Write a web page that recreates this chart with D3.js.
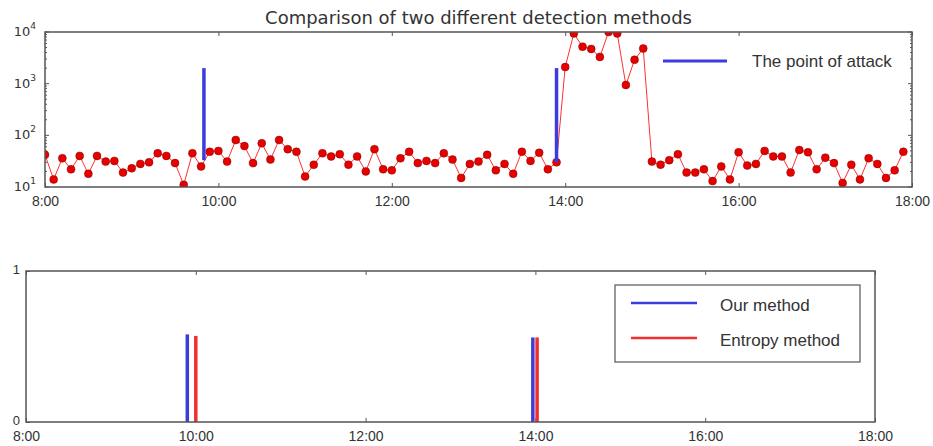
<!DOCTYPE html>
<html>
<head>
<meta charset="utf-8">
<script src="https://cdn.jsdelivr.net/npm/d3@7"></script>
<style>
  body { margin: 0; background: #fff; }
  svg { font-family: "DejaVu Sans", sans-serif; }
  .legend-text { font-family: "Liberation Sans", Arial, sans-serif; }
</style>
</head>
<body>
<svg id="chart" width="933" height="446"></svg>
<script>
// traffic metric sampled every 6 minutes from 8:00
const sampleStart = 8;
const sampleStep = 0.1; // hours
const trafficValues = [
  42, 14, 36, 22, 40, 18, 40, 31, 32, 19,
  23, 28, 30, 45, 40, 29, 11, 45, 25, 48,
  50, 31, 81, 62, 29, 70, 34, 81, 54, 48,
  16, 27, 45, 39, 43, 27, 39, 20, 54, 22,
  21, 36, 48, 29, 32, 29, 45, 34, 15, 28,
  31, 42, 21, 28, 18, 48, 32, 46, 22, 30,
  2100, 9400, 5200, 4700, 3300, 10000, 9400, 940, 2900, 4800,
  31, 27, 33, 43, 19, 19, 22, 13, 25, 14,
  47, 26, 28, 50, 39, 39, 19, 52, 47, 22,
  37, 29, 12, 27, 14, 36, 28, 15, 21, 48
];

// attack points (hours, low/high value of the marker)
const attackTimes = [9.833, 13.9];
const attackLow = [33, 30];
const attackHigh = [2000, 2000];

// detection results
const ourTimes = [9.9, 13.97];
const ourValues = [0.58, 0.56];
const entropyTimes = [10.0, 14.02];
const entropyValues = [0.57, 0.56];

const hourTicks = [8, 10, 12, 14, 16, 18];
const logTicks = [10, 100, 1000, 10000];

const title = "Comparison of two different detection methods";

const svg = d3.select("#chart");
const frameColor = "#555";
const textColor = "#333";
const blue = "#3c3cdc";
const red = "#f03030";

// ---------- top panel ----------
const box1 = { left: 45, right: 912, top: 32, bottom: 187 };

const x1 = d3.scaleLinear().domain([8, 18]).range([box1.left, box1.right]);
const y1 = d3.scaleLog().domain([10, 10000]).range([box1.bottom, box1.top]);

svg.append("defs").append("clipPath")
  .attr("id", "clip-top")
  .append("rect")
  .attr("x", box1.left)
  .attr("y", box1.top)
  .attr("width", box1.right - box1.left)
  .attr("height", box1.bottom - box1.top);

const g1 = svg.append("g");

// ticks on all four sides, pointing inward
g1.append("g")
  .attr("transform", `translate(0,${box1.bottom})`)
  .call(d3.axisBottom(x1).tickValues(hourTicks).tickSizeInner(-4).tickSizeOuter(0)
    .tickPadding(9).tickFormat(d => d + ":00"))
  .call(a => a.select(".domain").remove())
  .call(a => a.selectAll("text").attr("font-size", 14).attr("fill", textColor))
  .call(a => a.selectAll("line").attr("stroke", frameColor));

g1.append("g")
  .attr("transform", `translate(0,${box1.top})`)
  .call(d3.axisTop(x1).tickValues(hourTicks).tickSizeInner(-4).tickSizeOuter(0).tickFormat(""))
  .call(a => a.select(".domain").remove())
  .call(a => a.selectAll("line").attr("stroke", frameColor));

const minorLog = y1.ticks().filter(d => !logTicks.includes(d));

[box1.left, box1.right].forEach((xPos, side) => {
  const dir = side === 0 ? 1 : -1;
  g1.append("g").selectAll("line")
    .data(minorLog)
    .join("line")
    .attr("x1", xPos).attr("x2", xPos + dir * 2)
    .attr("y1", d => y1(d)).attr("y2", d => y1(d))
    .attr("stroke", frameColor);
  g1.append("g").selectAll("line")
    .data(logTicks)
    .join("line")
    .attr("x1", xPos).attr("x2", xPos + dir * 4)
    .attr("y1", d => y1(d)).attr("y2", d => y1(d))
    .attr("stroke", frameColor);
});

const yLabels = g1.append("g").selectAll("text")
  .data(logTicks)
  .join("text")
  .attr("x", box1.left - 9)
  .attr("y", d => y1(d) + 4)
  .attr("text-anchor", "end")
  .attr("fill", textColor)
  .attr("font-size", 13);
yLabels.append("tspan").text("10");
yLabels.append("tspan")
  .attr("dy", -7)
  .attr("font-size", 9)
  .text(d => Math.round(Math.log10(d)));

const points = trafficValues.map((v, i) => ({ t: sampleStart + i * sampleStep, v: v }));

const plot1 = g1.append("g").attr("clip-path", "url(#clip-top)");

plot1.append("path")
  .datum(points)
  .attr("fill", "none")
  .attr("stroke", "#ff3030")
  .attr("stroke-width", 1)
  .attr("d", d3.line().x(d => x1(d.t)).y(d => y1(d.v)));

plot1.selectAll("circle")
  .data(points)
  .join("circle")
  .attr("cx", d => x1(d.t))
  .attr("cy", d => y1(d.v))
  .attr("r", 4)
  .attr("fill", "#e80000")
  .attr("stroke", "#600")
  .attr("stroke-width", 0.4);

plot1.selectAll("line.attack")
  .data(attackTimes)
  .join("line")
  .attr("class", "attack")
  .attr("x1", d => x1(d)).attr("x2", d => x1(d))
  .attr("y1", (d, i) => y1(attackLow[i]))
  .attr("y2", (d, i) => y1(attackHigh[i]))
  .attr("stroke", blue)
  .attr("stroke-width", 3.5);

g1.append("rect")
  .attr("x", box1.left).attr("y", box1.top)
  .attr("width", box1.right - box1.left)
  .attr("height", box1.bottom - box1.top)
  .attr("fill", "none")
  .attr("stroke", frameColor)
  .attr("stroke-width", 1.5);

// legend
g1.append("line")
  .attr("x1", 663).attr("x2", 727).attr("y1", 61).attr("y2", 61)
  .attr("stroke", blue).attr("stroke-width", 3);
g1.append("text")
  .attr("class", "legend-text")
  .attr("x", 752).attr("y", 67)
  .attr("font-size", 17)
  .attr("fill", textColor)
  .text("The point of attack");

svg.append("text")
  .attr("x", (box1.left + box1.right) / 2)
  .attr("y", 24)
  .attr("text-anchor", "middle")
  .attr("font-size", 18)
  .attr("fill", textColor)
  .text(title);

// ---------- bottom panel ----------
const box2 = { left: 26, right: 875, top: 271, bottom: 422 };

const x2 = d3.scaleLinear().domain([8, 18]).range([box2.left, box2.right]);
const y2 = d3.scaleLinear().domain([0, 1]).range([box2.bottom, box2.top]);

const g2 = svg.append("g");

g2.append("g")
  .attr("transform", `translate(0,${box2.bottom})`)
  .call(d3.axisBottom(x2).tickValues(hourTicks).tickSizeInner(-4).tickSizeOuter(0)
    .tickPadding(9).tickFormat(d => d + ":00"))
  .call(a => a.select(".domain").remove())
  .call(a => a.selectAll("text").attr("font-size", 14).attr("fill", textColor))
  .call(a => a.selectAll("line").attr("stroke", frameColor));

g2.append("g")
  .attr("transform", `translate(0,${box2.top})`)
  .call(d3.axisTop(x2).tickValues(hourTicks).tickSizeInner(-4).tickSizeOuter(0).tickFormat(""))
  .call(a => a.select(".domain").remove())
  .call(a => a.selectAll("line").attr("stroke", frameColor));

g2.append("g")
  .attr("transform", `translate(${box2.left},0)`)
  .call(d3.axisLeft(y2).tickValues([0, 1]).tickSizeInner(-4).tickSizeOuter(0)
    .tickPadding(6).tickFormat(d3.format("d")))
  .call(a => a.select(".domain").remove())
  .call(a => a.selectAll("text").attr("font-size", 13).attr("fill", textColor)
    .attr("dy", "0.2em"))
  .call(a => a.selectAll("line").attr("stroke", frameColor));

function drawBars(times, values, color) {
  g2.append("g").selectAll("line")
    .data(times)
    .join("line")
    .attr("x1", d => x2(d)).attr("x2", d => x2(d))
    .attr("y1", y2(0))
    .attr("y2", (d, i) => y2(values[i]))
    .attr("stroke", color)
    .attr("stroke-width", 3.5);
}
drawBars(ourTimes, ourValues, blue);
drawBars(entropyTimes, entropyValues, red);

g2.append("rect")
  .attr("x", box2.left).attr("y", box2.top)
  .attr("width", box2.right - box2.left)
  .attr("height", box2.bottom - box2.top)
  .attr("fill", "none")
  .attr("stroke", frameColor)
  .attr("stroke-width", 1.5);

// legend box
const legend = g2.append("g");
legend.append("rect")
  .attr("x", 615).attr("y", 285)
  .attr("width", 245).attr("height", 77)
  .attr("fill", "#fff")
  .attr("stroke", frameColor)
  .attr("stroke-width", 1.2);

const legendItems = [
  { label: "Our method", color: blue },
  { label: "Entropy method", color: red }
];
legendItems.forEach((item, i) => {
  const ly = 303 + i * 35;
  legend.append("line")
    .attr("x1", 631).attr("x2", 697).attr("y1", ly).attr("y2", ly)
    .attr("stroke", item.color).attr("stroke-width", 2.5);
  legend.append("text")
    .attr("class", "legend-text")
    .attr("x", 720).attr("y", ly + 8)
    .attr("font-size", 17)
    .attr("fill", textColor)
    .text(item.label);
});
</script>
</body>
</html>
